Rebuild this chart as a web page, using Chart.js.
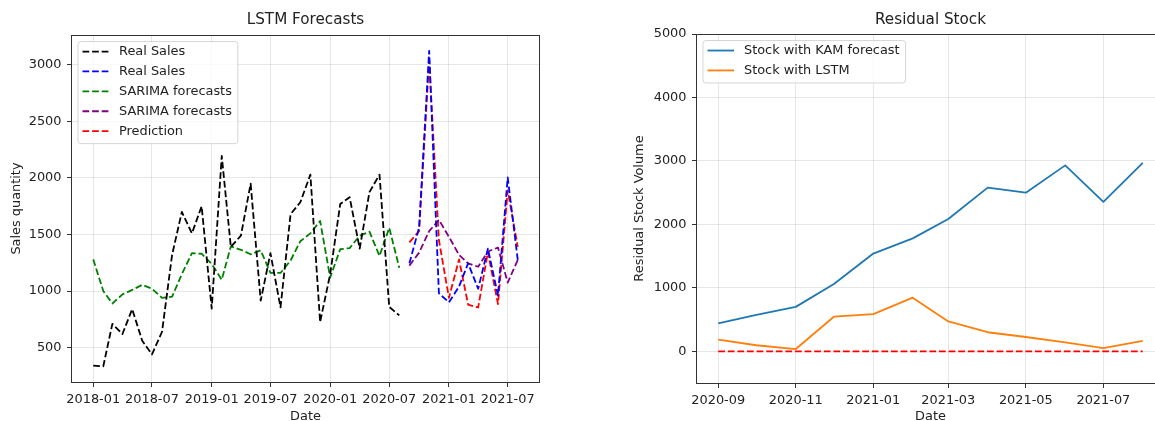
<!DOCTYPE html>
<html>
<head>
<meta charset="utf-8">
<script src="https://cdn.jsdelivr.net/npm/chart.js@4.4.1/dist/chart.umd.min.js"></script>
<style>
  html, body { margin: 0; padding: 0; background: #fff; overflow: hidden; }
  #wrap { position: relative; width: 1155px; height: 421px; overflow: hidden; }
  #salesChart { position: absolute; left: 0; top: 0; }
  #stockChart { position: absolute; left: 620px; top: 0; }
</style>
</head>
<body>
<div id="wrap">
  <canvas id="salesChart" width="560" height="424"></canvas>
  <canvas id="stockChart" width="560" height="424"></canvas>
</div>
<script>
// ---- left plot: sales history + forecasts (monthly) ----
let histMonths = ['2018-01', '2018-02', '2018-03', '2018-04', '2018-05', '2018-06', '2018-07', '2018-08',
	'2018-09', '2018-10', '2018-11', '2018-12', '2019-01', '2019-02', '2019-03', '2019-04',
	'2019-05', '2019-06', '2019-07', '2019-08', '2019-09', '2019-10', '2019-11', '2019-12',
	'2020-01', '2020-02', '2020-03', '2020-04', '2020-05', '2020-06', '2020-07', '2020-08'];
let realSales = [340, 335, 710, 620, 840, 560, 440, 640, 1320, 1700, 1510, 1750,
	845, 2195, 1390, 1490, 1950, 915, 1335, 855, 1680, 1785, 2030, 725,
	1150, 1770, 1830, 1375, 1875, 2030, 860, 785];
let sarimaFit = [1280, 1000, 890, 970, 1010, 1055, 1020, 940, 950, 1150, 1335, 1330,
	1240, 1100, 1395, 1365, 1325, 1360, 1160, 1160, 1270, 1440, 1510, 1620,
	1120, 1370, 1380, 1490, 1525, 1310, 1560, 1205];

let testMonths = ['2020-09', '2020-10', '2020-11', '2020-12', '2021-01', '2021-02',
	'2021-03', '2021-04', '2021-05', '2021-06', '2021-07', '2021-08'];
let realSalesTest = [1245, 1560, 3125, 980, 900, 1040, 1245, 1020, 1375, 960, 2005, 1275];
let sarimaTest = [1225, 1340, 1530, 1630, 1480, 1320, 1245, 1215, 1350, 1385, 1075, 1275];
let lstmPred = [1430, 1530, 3040, 1450, 940, 1280, 880, 855, 1345, 885, 1890, 1390];

let salesXTicks = ['2018-01', '2018-07', '2019-01', '2019-07', '2020-01', '2020-07', '2021-01', '2021-07'];
let salesYTicks = [500, 1000, 1500, 2000, 2500, 3000];

// ---- right plot: residual stock ----
let stockKam = [440, 575, 700, 1060, 1540, 1780, 2085, 2580, 2500, 2930, 2355, 2970];
let stockLstm = [185, 95, 35, 545, 585, 845, 470, 300, 225, 140, 50, 165];
let stockZero = [0, 0, 0, 0, 0, 0, 0, 0, 0, 0, 0, 0];
let stockXTicks = ['2020-09', '2020-11', '2021-01', '2021-03', '2021-05', '2021-07'];
let stockYTicks = [0, 1000, 2000, 3000, 4000, 5000];
let stockYRange = [-500, 5000];

Chart.defaults.font.family = "'DejaVu Sans', sans-serif";
Chart.defaults.font.size = 12.9;

let textColor = '#222';
let gridColor = 'rgba(176, 176, 176, 0.3)';
let dash = [6.7, 2.9];

// month string -> day number, so the x axis behaves like a date axis
function toDay(m) {
	let p = m.split('-');
	return Date.UTC(+p[0], +p[1] - 1, 1) / 86400000;
}
function pts(months, values) {
	return months.map((m, i) => ({ x: toDay(m), y: values[i] }));
}
// matplotlib style 5% margins
function padded(lo, hi) {
	let d = (hi - lo) * 0.05;
	return [lo - d, hi + d];
}

function line(label, months, values, color, dashed) {
	return {
		label: label,
		data: pts(months, values),
		borderColor: color,
		backgroundColor: color,
		borderWidth: 1.8,
		borderDash: dashed ? dash : [],
		borderJoinStyle: 'round',
		pointRadius: 0,
		tension: 0,
		fill: false
	};
}

function xScale(ticks, range, height) {
	return {
		type: 'linear',
		min: range[0],
		max: range[1],
		afterBuildTicks: s => { s.ticks = ticks.map(m => ({ value: toDay(m) })); },
		afterFit: s => { s.height = height; },
		border: { display: false },
		grid: { color: gridColor, lineWidth: 1, tickLength: 5, tickColor: '#333', tickWidth: 1 },
		ticks: { autoSkip: false, maxRotation: 0, padding: 4.5, color: textColor, callback: (v, i) => ticks[i] },
		title: { display: true, text: 'Date', color: textColor, padding: { top: 0, bottom: 0 } }
	};
}

function yScale(ticks, range, width, title, titlePad) {
	return {
		type: 'linear',
		min: range[0],
		max: range[1],
		afterBuildTicks: s => { s.ticks = ticks.map(v => ({ value: v })); },
		afterFit: s => { s.width = width; },
		border: { display: false },
		grid: { color: gridColor, lineWidth: 1, tickLength: 5, tickColor: '#333', tickWidth: 1 },
		ticks: { padding: 5.5, color: textColor, callback: v => String(v) },
		title: { display: true, text: title, color: textColor, padding: { top: titlePad, bottom: 0 } }
	};
}

// axes frame on all four sides
let framePlugin = {
	id: 'frame',
	afterDatasetsDraw(chart) {
		let a = chart.chartArea, ctx = chart.ctx;
		ctx.save();
		ctx.strokeStyle = '#333';
		ctx.lineWidth = 1;
		let l = Math.round(a.left) - 0.5, t = Math.round(a.top) + 0.5;
		let r = Math.round(a.right) + 0.5, b = Math.round(a.bottom) + 0.5;
		ctx.strokeRect(l, t, r - l, b - t);
		ctx.restore();
	}
};

// legend boxed inside the upper left corner of the plot
let boxLegend = {
	id: 'boxLegend',
	afterDatasetsDraw(chart) {
		let items = chart.data.datasets.filter(d => d.label);
		let a = chart.chartArea, ctx = chart.ctx;
		ctx.save();
		ctx.font = "12.9px 'DejaVu Sans'";
		let textW = Math.max(...items.map(d => ctx.measureText(d.label).width));
		let x = a.left + 6, y = a.top + 6.5;
		let w = 41 + textW + 6, h = 10 + (items.length - 1) * 19.9 + 12.5;
		ctx.beginPath();
		ctx.roundRect(x, y, w, h, 3);
		ctx.fillStyle = 'rgba(255,255,255,0.8)';
		ctx.fill();
		ctx.strokeStyle = 'rgba(204,204,204,0.8)';
		ctx.lineWidth = 1;
		ctx.stroke();
		items.forEach((d, i) => {
			let cy = y + 10 + i * 19.9;
			ctx.beginPath();
			ctx.setLineDash(d.borderDash || []);
			ctx.strokeStyle = d.borderColor;
			ctx.lineWidth = d.borderWidth;
			ctx.moveTo(x + 4.5, cy);
			ctx.lineTo(x + 31, cy);
			ctx.stroke();
			ctx.setLineDash([]);
			ctx.fillStyle = textColor;
			ctx.textBaseline = 'middle';
			ctx.fillText(d.label, x + 41, cy + 0.5);
		});
		ctx.restore();
	}
};

let allSales = realSales.concat(sarimaFit, realSalesTest, sarimaTest, lstmPred);
let salesYRange = padded(Math.min(...allSales), Math.max(...allSales));
let salesXRange = padded(toDay(histMonths[0]), toDay(testMonths[testMonths.length - 1]));
let stockXRange = padded(toDay(testMonths[0]), toDay(testMonths[testMonths.length - 1]));

let salesChart = new Chart(document.getElementById('salesChart').getContext('2d'), {
	type: 'line',
	data: {
		datasets: [
			line('Real Sales', histMonths, realSales, '#000000', true),
			line('Real Sales', testMonths, realSalesTest, '#0000ff', true),
			line('SARIMA forecasts', histMonths, sarimaFit, '#008000', true),
			line('SARIMA forecasts', testMonths, sarimaTest, '#800080', true),
			line('Prediction', testMonths, lstmPred, '#ff0000', true)
		]
	},
	options: {
		responsive: false,
		devicePixelRatio: 1,
		animation: false,
		layout: { padding: { left: 0, right: 21, top: 0, bottom: 0 } },
		plugins: {
			legend: { display: false },
			tooltip: { enabled: false },
			title: {
				display: true, text: 'LSTM Forecasts', fullSize: false, color: textColor,
				font: { size: 15.2, weight: 'normal' }, padding: { top: 10.8, bottom: 6 }
			}
		},
		scales: {
			x: xScale(salesXTicks, salesXRange, 42),
			y: yScale(salesYTicks, salesYRange, 72, 'Sales quantity', 9)
		}
	},
	plugins: [framePlugin, boxLegend]
});

let stockChart = new Chart(document.getElementById('stockChart').getContext('2d'), {
	type: 'line',
	data: {
		datasets: [
			line('Stock with KAM forecast', testMonths, stockKam, '#1f77b4', false),
			line('Stock with LSTM', testMonths, stockLstm, '#ff7f0e', false),
			line('', testMonths, stockZero, '#ff0000', true)
		]
	},
	options: {
		responsive: false,
		devicePixelRatio: 1,
		animation: false,
		layout: { padding: { left: 0, right: 16, top: 0, bottom: 0 } },
		plugins: {
			legend: { display: false },
			tooltip: { enabled: false },
			title: {
				display: true, text: 'Residual Stock', fullSize: false, color: textColor,
				font: { size: 15.2, weight: 'normal' }, padding: { top: 10.8, bottom: 5 }
			}
		},
		scales: {
			x: xScale(stockXTicks, stockXRange, 41),
			y: yScale(stockYTicks, stockYRange, 77, 'Residual Stock Volume', 12.3)
		}
	},
	plugins: [framePlugin, boxLegend]
});
</script>
</body>
</html>
